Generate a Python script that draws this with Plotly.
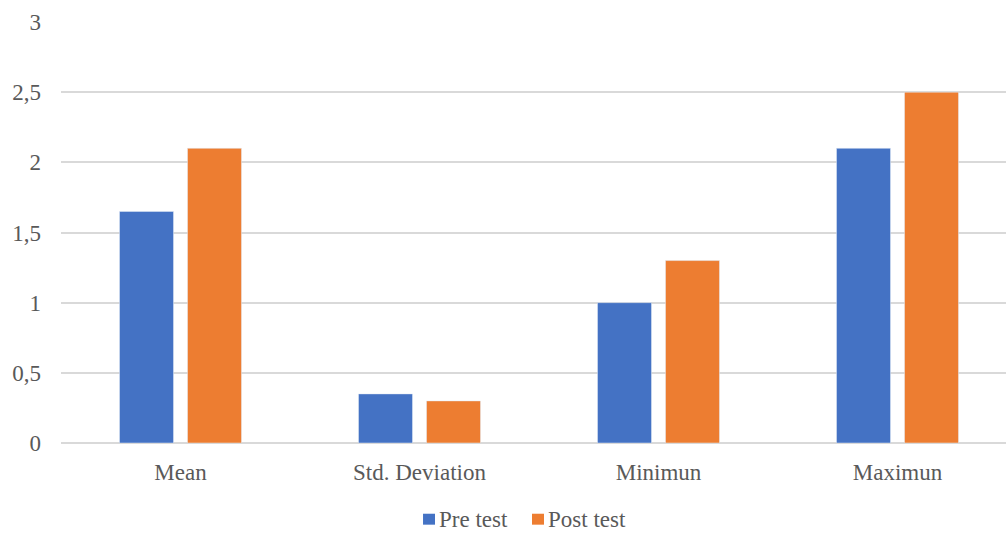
import plotly.graph_objects as go

categories = ["Mean", "Std. Deviation", "Minimun", "Maximun"]
series_names = ["Pre test", "Post test"]
pre_test = [1.65, 0.35, 1.0, 2.1]
post_test = [2.1, 0.3, 1.3, 2.5]
y_tick_vals = [0, 0.5, 1, 1.5, 2, 2.5, 3]
y_tick_text = ["0", "0,5", "1", "1,5", "2", "2,5", "3"]
colors = ["#4472C4", "#ED7D31"]

font_family = "'Liberation Serif', 'Times New Roman', serif"
text_color = "#595959"
font_size = 23

fig = go.Figure()
fig.add_trace(go.Bar(name=series_names[0], x=categories, y=pre_test, marker_color=colors[0]))
fig.add_trace(go.Bar(name=series_names[1], x=categories, y=post_test, marker_color=colors[1]))

# Legend drawn below the plot: small square swatch followed by its label
legend_y = -0.181
swatch_x = [0.3831, 0.4984]   # left edge of each swatch (paper fraction)
swatch_w = 0.0127
swatch_h = 0.026
for name, color, sx in zip(series_names, colors, swatch_x):
    fig.add_shape(
        type="rect", xref="paper", yref="paper",
        x0=sx, x1=sx + swatch_w, y0=legend_y - swatch_h / 2, y1=legend_y + swatch_h / 2,
        fillcolor=color, line=dict(width=0),
    )
    fig.add_annotation(
        xref="paper", yref="paper", x=sx + swatch_w + 0.002, y=legend_y,
        text=name, showarrow=False, xanchor="left", yanchor="middle",
        font=dict(family=font_family, size=font_size, color=text_color),
    )

fig.update_layout(
    width=1006,
    height=533,
    margin=dict(l=61, r=0, t=22, b=90, autoexpand=False),
    paper_bgcolor="white",
    plot_bgcolor="white",
    barmode="group",
    bargap=0.431,
    bargroupgap=0.206,
    font=dict(family=font_family, size=font_size, color=text_color),
    showlegend=False,
    xaxis=dict(
        range=[-0.5, 3.454],
        showgrid=False,
        showline=False,
        ticks="",
        ticklabelstandoff=13,
        tickfont=dict(family=font_family, size=font_size, color=text_color),
    ),
    yaxis=dict(
        range=[0, 3],
        tickvals=y_tick_vals,
        ticktext=y_tick_text,
        showgrid=True,
        gridcolor="#D9D9D9",
        gridwidth=1.5,
        zeroline=True,
        zerolinecolor="#D9D9D9",
        zerolinewidth=1.5,
        ticks="",
        ticklabelstandoff=19,
        tickfont=dict(family=font_family, size=font_size, color=text_color),
    ),
)

fig.write_html("out.html")
